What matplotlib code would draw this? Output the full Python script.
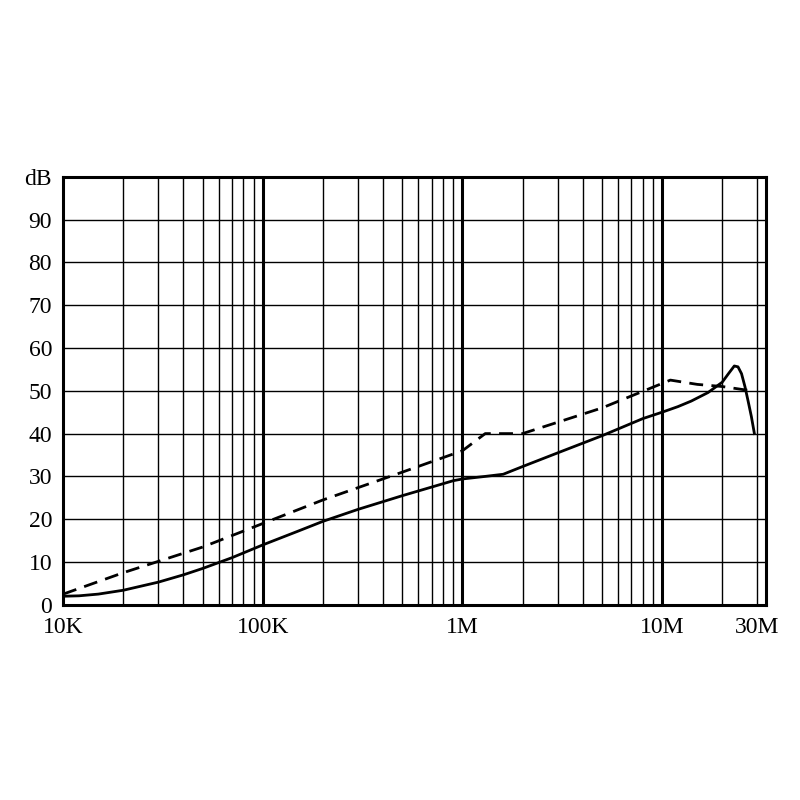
import numpy as np
import matplotlib.pyplot as plt

solid_f = [1e4, 1.2e4, 1.5e4, 2e4, 3e4, 4e4, 5e4, 7e4, 1e5, 1.5e5, 2e5, 3e5, 5e5, 7e5, 9e5, 1e6, 1.3e6, 1.6e6, 2e6, 3e6, 5e6, 8e6, 1e7,
           1.2e7, 1.4e7, 1.7e7, 2e7, 2.15e7, 2.3e7, 2.4e7, 2.5e7, 2.6e7, 2.7e7, 2.8e7, 2.9e7]
solid_db = [2, 2.1, 2.5, 3.4, 5.3, 7, 8.5, 11, 14, 17.2, 19.5, 22.3, 25.5, 27.5, 29, 29.4, 30, 30.5, 32.3, 35.5, 39.5, 43.5, 45,
            46.3, 47.6, 49.6, 52, 54, 55.8, 55.6, 54, 51, 47.5, 44, 40]
dash_f = [1e4, 2e4, 5e4, 1e5, 2e5, 5e5, 1e6, 1.3e6, 2e6, 5e6, 1.1e7, 1.5e7, 2e7, 2.8e7]
dash_db = [2.5, 7.5, 13.5, 19, 24.5, 31, 36, 40, 40, 46, 52.5, 51.5, 51, 50]

xticks = [1e4, 1e5, 1e6, 1e7, 3e7]
xlabels = ["10K", "100K", "1M", "10M", "30M"]

plt.rcParams['font.family'] = ['Liberation Serif', 'DejaVu Serif']
fig = plt.figure(figsize=(8, 8), dpi=100)
ax = fig.add_axes([0.079, 0.244, 0.878, 0.535])
ax.set_xscale('log')
ax.set_xlim(1e4, 3.3e7)
ax.set_ylim(0, 100)

for d in [1e4, 1e5, 1e6, 1e7]:
    for m in range(2, 10):
        if d * m < 3.3e7:
            ax.axvline(d * m, color='black', lw=1.0)
for d in [1e5, 1e6, 1e7]:
    ax.axvline(d, color='black', lw=2.2)
for y in range(10, 100, 10):
    ax.axhline(y, color='black', lw=1.0)

ax.plot(solid_f, solid_db, color='black', lw=2)
ax.plot(dash_f, dash_db, color='black', lw=2, ls=(0, (5, 3)))

ax.set_xticks(xticks)
ax.set_xticklabels(xlabels)
ax.minorticks_off()
ax.set_yticks(range(0, 101, 10))
ax.set_yticklabels([str(v) for v in range(0, 100, 10)] + ["dB"])
ax.tick_params(length=0, labelsize=17)
ax.tick_params(axis='x', pad=9)
ax.tick_params(axis='y', pad=8)
for s in ax.spines.values():
    s.set_linewidth(2.2)

fig.savefig("out.png")
